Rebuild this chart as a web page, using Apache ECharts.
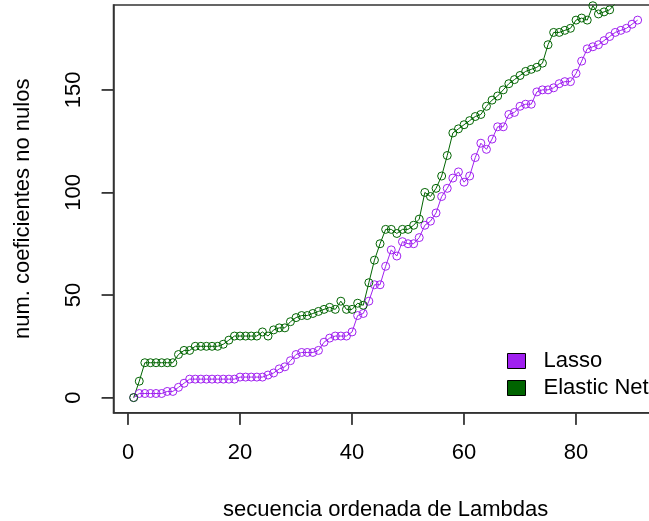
<!DOCTYPE html>
<html>
<head>
<meta charset="utf-8">
<script src="https://cdn.jsdelivr.net/npm/echarts@6/dist/echarts.min.js"></script>
<style>html,body{margin:0;padding:0;background:#fff}#c{width:649px;height:521px}</style>
</head>
<body>
<div id="c"></div>
<script>
const lasso = [0,2,2,2,2,2,3,3,5,7, 9,9,9,9,9,9,9,9,9,10, 10,10,10,10,11,12,14,15,18,21, 22,22,22,23,27,29,30,30,30,32, 40,41,47,55,55,64,72,69,76,75, 75,78,84,86,90,98,102,107,110,105, 108,117,124,121,126,132,132,138,139,142, 143,143,149,150,150,151,153,154,154,158, 164,170,171,172,174,176,178,179,180,182, 184];
const elastic = [0,8,17,17,17,17,17,17,21,23, 23,25,25,25,25,25,26,28,30,30, 30,30,30,32,30,33,34,34,37,39, 40,40,41,42,43,44,43,47,43,43, 46,45,56,67,75,82,82,80,82,82, 84,87,100,98,102,108,118,129,131,133, 135,137,138,142,145,147,150,153,155,157, 159,160,161,163,172,178,178,179,180,184, 185,184,191,187,188,189,192,195,197,199, 201];
const xTicks = [0,20,40,60,80];
const yTicks = [0,50,100,150];
const seriesNames = ['Lasso','Elastic Net'];
const colors = ['#A020F0','#006400'];

const X_MIN = -2.6, X_MAX = 94.6, Y_MIN = -7.36, Y_MAX = 191.36;
const idx = lasso.map((_, i) => i + 1);
const font = 'Liberation Sans, Arial, sans-serif';
const axisCol = '#333';
const chart = echarts.init(document.getElementById('c'), null, {renderer:'canvas'});
function mk(name, vals, col) {
  return {
    name: name, type: 'line', data: vals.map((v, i) => [idx[i], v]),
    symbol: 'circle', symbolSize: 8, clip: true,
    itemStyle: {color: 'rgba(0,0,0,0)', borderColor: col, borderWidth: 1},
    lineStyle: {color: col, width: 1},
    emphasis: {disabled: true}, animation: false
  };
}
// tick mark drawn as a bar glyph inside the axis label (R-style outward ticks)
const tickRich = {fontSize: 13, lineHeight: 12, color: axisCol, fontFamily: 'Liberation Sans, Arial, sans-serif'};
chart.setOption({
  animation: false,
  grid: {left: 113.5, top: 5, right: -8.8, bottom: 108.3, outerBoundsMode: 'none', containLabel: false, show: true, borderColor: axisCol, borderWidth: 1.5, backgroundColor: 'transparent'},
  xAxis: {
    type: 'value', min: X_MIN, max: X_MAX,
    axisLine: {show: true, onZero: false, lineStyle: {color: axisCol, width: 1.5}},
    axisTick: {show: true, inside: false, length: 12, customValues: xTicks, lineStyle: {color: axisCol, width: 1.5}},
    axisLabel: {
      customValues: xTicks, margin: 0,
      formatter: v => '{t||}\n{n|' + v + '}',
      rich: {t: tickRich, n: {fontSize: 22, lineHeight: 56, color: '#000', fontFamily: font}}
    },
    splitLine: {show: false},
    name: 'secuencia ordenada de Lambdas', nameLocation: 'middle', nameGap: 86,
    nameTextStyle: {fontSize: 22, color: '#000', fontFamily: font}
  },
  yAxis: {
    type: 'value', min: Y_MIN, max: Y_MAX,
    axisLine: {show: true, onZero: false, lineStyle: {color: axisCol, width: 1.5}},
    axisTick: {show: true, inside: false, length: 12, customValues: yTicks, lineStyle: {color: axisCol, width: 1.5}},
    axisLabel: {
      customValues: yTicks, rotate: 90, margin: 0,
      formatter: v => '{n|' + v + '}\n{t||}',
      rich: {t: tickRich, n: {fontSize: 22, lineHeight: 55, color: '#000', fontFamily: font}}
    },
    splitLine: {show: false},
    name: 'num. coeficientes no nulos', nameLocation: 'middle', nameGap: 80,
    nameTextStyle: {fontSize: 22, color: '#000', fontFamily: font}
  },
  legend: {
    orient: 'vertical', left: 507, top: 350, padding: 0, itemWidth: 18, itemHeight: 15, itemGap: 5,
    textStyle: {fontSize: 22, lineHeight: 15, color: '#000', fontFamily: font, padding: [0,0,0,13]},
    selectedMode: false,
    data: seriesNames.map((n, i) => ({name: n, icon: 'rect', itemStyle: {color: colors[i], borderColor: '#000', borderWidth: 1}}))
  },
  series: [mk(seriesNames[0], lasso, colors[0]), mk(seriesNames[1], elastic, colors[1])]
});
</script>
</body>
</html>
